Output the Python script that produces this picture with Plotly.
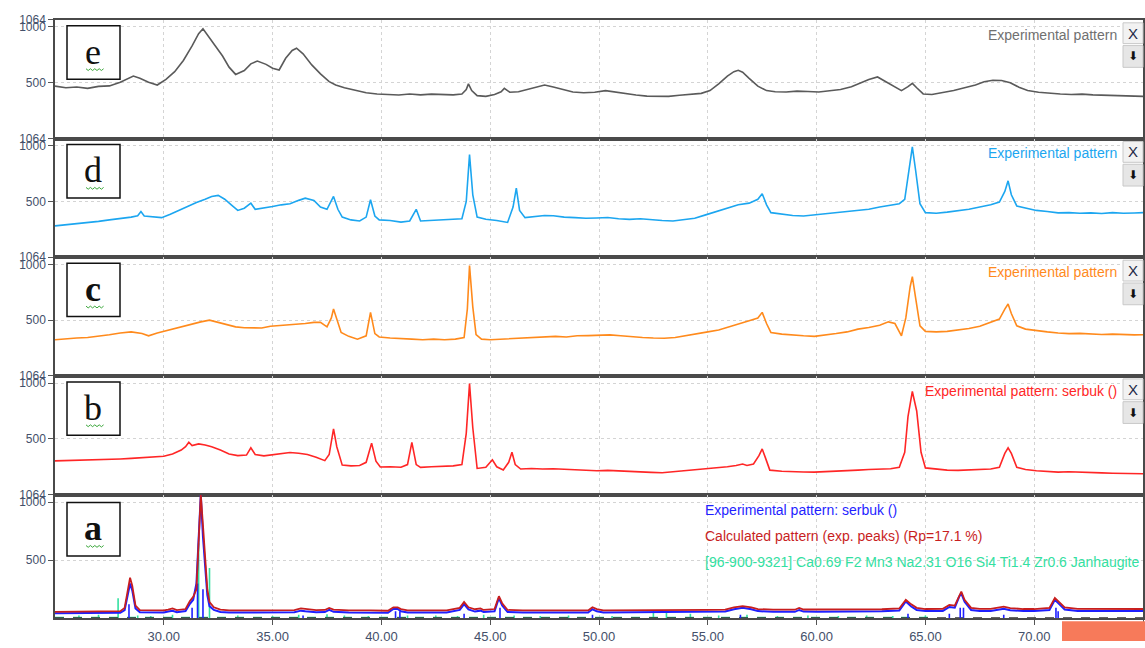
import plotly.graph_objects as go

W, H = 1145, 648

# ---------------- data (2-theta, intensity) ----------------
x_e = [25.0, 25.5, 26.0, 26.5, 27.0, 27.5, 28.0, 28.3, 28.6, 28.9, 29.3, 29.7, 30.1, 30.5, 30.9, 31.3, 31.6, 31.8, 32.0, 32.3,
       32.7, 33.0, 33.3, 33.7, 34.0, 34.3, 34.7, 35.0, 35.3, 35.6, 35.9, 36.1, 36.4, 36.8, 37.2, 37.6, 37.9, 38.3, 38.8, 39.3,
       39.8, 40.3, 40.8, 41.3, 41.8, 42.3, 42.8, 43.3, 43.7, 43.9, 44.0, 44.15, 44.4, 44.8, 45.2, 45.5, 45.65, 45.9, 46.3, 46.7,
       47.1, 47.5, 47.9, 48.3, 48.8, 49.3, 49.8, 50.3, 50.7, 51.2, 51.7, 52.2, 52.7, 53.2, 53.7, 54.2, 54.7, 55.1, 55.5, 55.9,
       56.2, 56.4, 56.6, 56.9, 57.3, 57.7, 58.1, 58.6, 59.1, 59.6, 60.1, 60.6, 61.1, 61.6, 62.0, 62.4, 62.8, 63.1, 63.5, 63.9,
       64.2, 64.4, 64.6, 64.9, 65.3, 65.8, 66.3, 66.8, 67.3, 67.7, 68.1, 68.5, 68.9, 69.3, 69.7, 70.2, 70.7, 71.2, 71.7, 72.2,
       72.7, 73.2, 73.7, 74.2, 74.7, 75.0]
y_e = [470, 455, 462, 450, 468, 472, 505, 530, 560, 540, 505, 480, 530, 600, 700, 830, 940, 985, 930, 840,
       740, 640, 575, 610, 670, 695, 665, 630, 615, 720, 790, 810, 760, 660, 580, 510, 480, 455, 430, 410,
       400, 395, 390, 400, 392, 398, 395, 392, 400, 440, 490, 430, 385, 378, 395, 420, 450, 415, 420, 440,
       460, 480, 462, 440, 418, 410, 415, 430, 418, 400, 390, 380, 382, 378, 388, 395, 405, 430, 490, 560,
       600, 612, 595, 540, 470, 430, 420, 418, 425, 422, 418, 428, 440, 465, 500, 530, 552, 520, 475, 430,
       465, 495, 455, 400, 395, 410, 430, 455, 480, 510, 522, 520, 500, 460, 430, 415, 405, 400, 395, 398,
       392, 388, 390, 382, 380, 378]

x_d = [25.0, 25.5, 26.0, 26.5, 27.0, 27.5, 28.0, 28.5, 28.8, 28.95, 29.1, 29.5, 29.9, 30.3, 30.7, 31.1, 31.5, 31.9, 32.2, 32.5,
       32.8, 33.1, 33.4, 33.7, 34.0, 34.2, 34.6, 35.0, 35.4, 35.8, 36.2, 36.5, 36.9, 37.2, 37.5, 37.8, 38.0, 38.2, 38.6, 39.0,
       39.3, 39.5, 39.7, 39.9, 40.4, 40.9, 41.3, 41.6, 41.8, 42.3, 42.8, 43.3, 43.7, 43.9, 44.05, 44.2, 44.4, 44.8, 45.3, 45.8,
       46.05, 46.2, 46.35, 46.6, 47.0, 47.5, 47.9, 48.4, 48.9, 49.4, 49.9, 50.4, 50.9, 51.4, 51.9, 52.4, 52.9, 53.4, 53.9, 54.4,
       54.9, 55.4, 55.9, 56.4, 56.9, 57.3, 57.5, 57.7, 57.9, 58.4, 58.9, 59.4, 59.9, 60.4, 60.9, 61.4, 61.9, 62.4, 62.9, 63.4,
       63.8, 64.05, 64.25, 64.4, 64.55, 64.75, 65.0, 65.5, 66.0, 66.5, 67.0, 67.5, 68.0, 68.4, 68.65, 68.8, 68.95, 69.2, 69.6, 70.1,
       70.6, 71.1, 71.6, 72.1, 72.6, 73.1, 73.6, 74.1, 74.6, 75.0]
y_d = [281, 290, 300, 310, 322, 335, 345, 360, 372, 410, 370, 365, 355, 385, 420, 460, 490, 520, 545, 555,
       520, 470, 420, 440, 485, 430, 440, 455, 470, 480, 510, 530, 510, 450, 430, 545, 430, 360, 335, 325,
       360, 515, 370, 335, 330, 315, 325, 430, 325, 330, 335, 338, 345, 500, 920, 560, 360, 340, 330, 312,
       450, 620, 420, 355, 365, 375, 372, 360, 355, 350, 352, 356, 345, 340, 345, 335, 330, 325, 335, 350,
       380, 410, 445, 470, 485, 520, 570, 470, 400, 385, 375, 370, 380, 385, 395, 405, 415, 430, 450, 465,
       480, 520, 800, 990, 780, 480, 400, 395, 405, 415, 430, 450, 470, 495, 590, 685, 560, 460, 440, 420,
       410, 398, 400, 395, 398, 392, 400, 395, 397, 400]

x_c = [25.0, 25.5, 26.0, 26.5, 27.0, 27.5, 28.0, 28.5, 29.0, 29.3, 29.7, 30.1, 30.5, 30.9, 31.3, 31.7, 32.1, 32.5, 32.9, 33.3,
       33.7, 34.1, 34.5, 34.9, 35.3, 35.7, 36.1, 36.5, 36.9, 37.2, 37.5, 37.7, 37.8, 37.95, 38.15, 38.5, 38.9, 39.3, 39.5, 39.7,
       39.9, 40.4, 40.9, 41.4, 41.9, 42.4, 42.9, 43.4, 43.8, 43.95, 44.05, 44.2, 44.35, 44.6, 45.0, 45.5, 46.0, 46.5, 47.0, 47.5,
       48.0, 48.5, 49.0, 49.5, 50.0, 50.5, 51.0, 51.5, 52.0, 52.5, 53.0, 53.5, 54.0, 54.5, 55.0, 55.5, 56.0, 56.5, 56.9, 57.3,
       57.5, 57.7, 57.9, 58.4, 58.9, 59.4, 59.9, 60.4, 60.9, 61.4, 61.9, 62.4, 62.9, 63.3, 63.6, 63.9, 64.1, 64.3, 64.4, 64.55,
       64.75, 65.0, 65.5, 66.0, 66.5, 67.0, 67.5, 68.0, 68.4, 68.65, 68.8, 68.95, 69.2, 69.6, 70.1, 70.6, 71.1, 71.6, 72.1, 72.6,
       73.1, 73.6, 74.1, 74.6, 75.0]
y_c = [325, 335, 340, 345, 355, 370, 385, 395, 380, 360, 385, 405, 428, 450, 470, 485, 500, 480, 455, 440,
       432, 428, 430, 445, 450, 455, 462, 470, 480, 480, 440, 520, 600, 500, 390, 355, 330, 360, 570, 380,
       350, 340, 332, 330, 325, 330, 325, 330, 345, 600, 990, 620, 370, 330, 325, 330, 338, 345, 348, 352,
       355, 350, 360, 362, 365, 368, 360, 350, 345, 340, 338, 345, 360, 380, 395, 412, 440, 470, 495, 520,
       570, 470, 390, 375, 365, 360, 355, 365, 380, 395, 420, 435, 455, 485, 470, 360, 520, 800, 890, 700,
       450, 400, 395, 400, 410, 425, 445, 480, 510, 600, 645, 560, 450, 420, 405, 395, 385, 380, 382, 375,
       372, 375, 370, 368, 370]

x_b = [25.0, 25.5, 26.0, 26.5, 27.0, 27.5, 28.0, 28.5, 29.0, 29.6, 30.0, 30.4, 30.8, 31.0, 31.15, 31.3, 31.6, 31.9, 32.2, 32.6,
       33.0, 33.4, 33.8, 34.0, 34.2, 34.6, 35.0, 35.4, 35.8, 36.2, 36.6, 37.0, 37.4, 37.6, 37.8, 37.95, 38.2, 38.6, 39.0, 39.3,
       39.55, 39.75, 39.95, 40.4, 40.9, 41.2, 41.4, 41.6, 41.8, 42.3, 42.8, 43.3, 43.7, 43.9, 44.05, 44.2, 44.4, 44.8, 45.0, 45.1,
       45.3, 45.6, 45.85, 46.0, 46.15, 46.4, 46.9, 47.4, 47.9, 48.4, 48.9, 49.4, 49.9, 50.4, 50.9, 51.4, 51.9, 52.4, 52.9, 53.4,
       53.9, 54.4, 54.9, 55.4, 55.9, 56.3, 56.6, 56.8, 57.1, 57.35, 57.5, 57.65, 57.85, 58.4, 58.9, 59.4, 59.9, 60.4, 60.9, 61.4,
       61.9, 62.4, 62.9, 63.4, 63.8, 64.05, 64.2, 64.4, 64.6, 64.8, 65.0, 65.5, 66.0, 66.5, 67.0, 67.5, 68.0, 68.4, 68.65, 68.8,
       68.95, 69.2, 69.6, 70.1, 70.6, 71.1, 71.6, 72.1, 72.6, 73.1, 73.6, 74.1, 74.6, 75.0]
y_b = [303, 305, 310, 312, 315, 318, 320, 325, 330, 335, 345, 365, 400, 430, 470, 440, 455, 445, 430, 400,
       365, 350, 355, 420, 360, 348, 360, 372, 378, 372, 360, 335, 305, 360, 590, 430, 265, 258, 262, 290,
       462, 300, 248, 250, 246, 270, 468, 270, 245, 250, 255, 258, 270, 550, 995, 600, 235, 245, 290, 312,
       250, 222, 290, 380, 270, 230, 235, 230, 232, 228, 225, 220, 215, 218, 212, 208, 205, 200, 197, 205,
       212, 220, 230, 240, 250, 262, 275, 262, 275, 350, 410, 330, 220, 210, 205, 203, 202, 205, 210, 215,
       220, 225, 230, 232, 245, 380, 700, 925, 750, 380, 240, 228, 220, 218, 222, 225, 230, 245, 370, 420,
       370, 245, 225, 215, 208, 202, 205, 200, 198, 195, 192, 190, 188, 188]

x_a = [25.0, 26.5, 27.0, 27.5, 28.0, 28.2, 28.35, 28.45, 28.55, 28.7, 28.9, 29.5, 30.0, 30.2, 30.4, 30.6, 31.0, 31.2, 31.35, 31.5,
       31.6, 31.7, 31.8, 31.9, 32.0, 32.1, 32.3, 32.6, 33.0, 34.0, 35.0, 36.0, 36.3, 36.5, 37.0, 37.4, 37.6, 37.8, 38.5, 39.5,
       40.3, 40.55, 40.75, 40.9, 41.2, 42.0, 43.0, 43.6, 43.8, 44.0, 44.3, 44.55, 44.7, 45.2, 45.4, 45.55, 45.8, 46.5, 47.5, 48.5,
       49.5, 49.7, 49.9, 50.2, 51.0, 52.0, 53.0, 54.0, 55.0, 55.8, 56.2, 56.6, 57.0, 57.3, 58.0, 59.0, 59.2, 59.4, 60.0, 61.0,
       62.0, 63.0, 63.8, 64.1, 64.35, 64.6, 65.0, 65.8, 66.1, 66.35, 66.55, 66.65, 66.8, 67.1, 67.5, 68.0, 68.6, 68.9, 69.5, 70.0,
       70.7, 70.95, 71.15, 71.4, 72.0, 73.0, 74.0, 75.0]
y_a_calc = [55, 56, 60, 60, 62, 90, 250, 350, 280, 110, 70, 68, 68, 75, 85, 70, 80, 150, 185, 250,
            700, 1064, 800, 500, 250, 140, 95, 75, 68, 68, 68, 70, 85, 80, 70, 72, 90, 75, 68, 68,
            65, 95, 95, 80, 68, 68, 68, 90, 140, 95, 78, 85, 72, 80, 190, 130, 72, 68, 66, 66,
            68, 95, 80, 68, 68, 70, 72, 72, 72, 75, 95, 105, 95, 80, 74, 74, 90, 76, 75, 76,
            77, 78, 85, 160, 120, 90, 80, 82, 115, 110, 200, 230, 160, 90, 82, 82, 100, 88, 80, 80,
            90, 175, 140, 95, 82, 80, 80, 80]
y_a_exp = [44, 46, 48, 46, 48, 70, 200, 300, 240, 85, 52, 50, 50, 58, 64, 52, 62, 125, 160, 300,
           650, 1064, 700, 400, 200, 105, 72, 54, 50, 50, 50, 52, 66, 60, 52, 54, 72, 56, 50, 50,
           48, 80, 80, 60, 50, 50, 50, 72, 122, 76, 58, 66, 54, 60, 175, 110, 54, 50, 49, 49,
           50, 78, 60, 50, 52, 54, 56, 56, 56, 58, 78, 90, 78, 62, 56, 56, 72, 58, 57, 58,
           59, 60, 68, 145, 102, 72, 62, 64, 98, 92, 185, 215, 142, 72, 64, 64, 82, 70, 62, 62,
           72, 160, 122, 76, 64, 62, 62, 62]

# experimental peak markers (blue sticks) and reference card (green sticks)
exp_peak_pos = [28.4, 31.3, 31.55, 31.8, 36.4, 40.65, 40.85, 43.8, 45.45, 49.7, 56.5, 64.2, 66.1, 66.6, 66.75, 68.6, 71.0, 71.1]
exp_peak_h = [120, 90, 300, 250, 25, 60, 60, 40, 90, 30, 30, 40, 40, 90, 90, 30, 90, 60]
ref_pos = [26.1, 27.0, 27.9, 28.8, 29.4, 30.4, 31.6, 32.1, 33.4, 35.0, 36.2, 37.5, 38.3, 39.4, 41.2, 42.5, 43.5, 44.7, 46.1,
           47.3, 48.6, 50.6, 52.5, 53.1, 54.2, 55.5, 56.8, 58.2, 59.6, 61.0, 62.3, 63.5, 65.0]
ref_h = [25, 30, 173, 25, 20, 30, 645, 434, 25, 20, 30, 35, 25, 20, 25, 25, 20, 30, 25,
         20, 25, 20, 60, 45, 40, 25, 30, 20, 25, 20, 25, 20, 25]
ref_base_x = [25.0, 65.3]
ref_base_y = [8, 8]
zero_x = [25.0, 75.0]
zero_y = [4, 4]

x_ticks = [30, 35, 40, 45, 50, 55, 60, 65, 70, 75]
y_tickvals = [500, 1000, 1064]
y_ticktext = ["500", "1000", "1064"]

panel_letters = ["e", "d", "c", "b", "a"]
panel_legends = ["Experimental pattern", "Experimental pattern", "Experimental pattern",
                 "Experimental pattern: serbuk ()", None]
a_legend = ["Experimental pattern: serbuk ()", "Calculated pattern (exp. peaks) (Rp=17.1 %)",
            "[96-900-9321] Ca0.69 F2 Mn3 Na2.31 O16 Si4 Ti1.4 Zr0.6 Janhaugite"]

# ---------------- styling ----------------
C_E, C_D, C_C, C_B = "#5a5a5a", "#1ca6f0", "#ff8a1c", "#ff2626"
C_BLUE, C_RED, C_GREEN = "#1f1fff", "#c81e1e", "#34e0a1"
TICK_COL = "#44506a"

def px(x):
    return x / W

def py(y):
    return 1 - y / H

panel_tops = [13, 133, 253, 373, 493]
panel_bots = [133, 253, 373, 493, 618]

def sticks(pos, h):
    xs, ys = [], []
    for p, v in zip(pos, h):
        xs += [p, p, None]
        ys += [0, v, None]
    return xs, ys

fig = go.Figure()
series = [(x_e, y_e, C_E), (x_d, y_d, C_D), (x_c, y_c, C_C), (x_b, y_b, C_B)]
for i, (xx, yy, col) in enumerate(series):
    n = i + 1
    fig.add_trace(go.Scatter(x=xx, y=yy, mode="lines", line=dict(color=col, width=1.6),
                             xaxis="x" if n == 1 else f"x{n}", yaxis="y" if n == 1 else f"y{n}",
                             showlegend=False, hoverinfo="skip"))

rx, ry = sticks(ref_pos, ref_h)
bx, by = sticks(exp_peak_pos, exp_peak_h)
fig.add_trace(go.Scatter(x=rx, y=ry, mode="lines", line=dict(color=C_GREEN, width=1.6),
                         xaxis="x5", yaxis="y5", showlegend=False, hoverinfo="skip"))
fig.add_trace(go.Scatter(x=ref_base_x, y=ref_base_y, mode="lines", line=dict(color=C_GREEN, width=1.5, dash="dash"),
                         xaxis="x5", yaxis="y5", showlegend=False, hoverinfo="skip"))
fig.add_trace(go.Scatter(x=zero_x, y=zero_y, mode="lines", line=dict(color="#333333", width=1.3, dash="dash"),
                         xaxis="x5", yaxis="y5", showlegend=False, hoverinfo="skip"))
fig.add_trace(go.Scatter(x=bx, y=by, mode="lines", line=dict(color=C_BLUE, width=1.6),
                         xaxis="x5", yaxis="y5", showlegend=False, hoverinfo="skip"))
fig.add_trace(go.Scatter(x=x_a, y=y_a_exp, mode="lines", line=dict(color=C_BLUE, width=2.0),
                         xaxis="x5", yaxis="y5", showlegend=False, hoverinfo="skip"))
fig.add_trace(go.Scatter(x=x_a, y=y_a_calc, mode="lines", line=dict(color=C_RED, width=1.8),
                         xaxis="x5", yaxis="y5", showlegend=False, hoverinfo="skip"))

layout = dict(width=W, height=H, margin=dict(l=0, r=0, t=0, b=0),
              paper_bgcolor="white", plot_bgcolor="white",
              font=dict(family="Liberation Sans, Arial, sans-serif", color=TICK_COL))

for i in range(5):
    n = i + 1
    xk = "xaxis" if n == 1 else f"xaxis{n}"
    yk = "yaxis" if n == 1 else f"yaxis{n}"
    ya = "y" if n == 1 else f"y{n}"
    xa = "x" if n == 1 else f"x{n}"
    dom = [py(panel_bots[i]), py(panel_tops[i])]
    layout[xk] = dict(domain=[px(55), px(1143)], range=[25.0, 75.0], anchor=ya,
                      tickvals=x_ticks, tickformat=".2f",
                      showticklabels=(n == 5), ticks="outside" if n == 5 else "", ticklen=5,
                      tickcolor="#555", tickfont=dict(size=13, color=TICK_COL),
                      showgrid=True, gridcolor="#d4d4d4", griddash="dot", gridwidth=1,
                      showline=True, linecolor="#4a4a4a", linewidth=2, mirror=True,
                      zeroline=False, fixedrange=True)
    if n != 1:
        layout[xk]["matches"] = "x"
    layout[yk] = dict(domain=dom, range=[0, 1064], anchor=xa,
                      tickvals=y_tickvals, ticktext=y_ticktext, ticks="outside", ticklen=5,
                      tickcolor="#555", tickfont=dict(size=12, color=TICK_COL),
                      showgrid=True, gridcolor="#d4d4d4", griddash="dot", gridwidth=1,
                      showline=True, linecolor="#4a4a4a", linewidth=1.5, mirror=True,
                      zeroline=False, fixedrange=True)

shapes, annotations = [], []
for i, letter in enumerate(panel_letters):
    top = panel_tops[i]
    by0 = top + 6 if i < 4 else top + 8
    shapes.append(dict(type="rect", xref="paper", yref="paper", x0=px(67), x1=px(120),
                       y0=py(by0 + 54), y1=py(by0), line=dict(color="#111", width=1.5),
                       fillcolor="white", layer="above"))
    bold = letter in ("a", "c")
    annotations.append(dict(xref="paper", yref="paper", x=px(93.5), y=py(by0 + 26),
                            text=f"<b>{letter}</b>" if bold else letter, showarrow=False,
                            font=dict(family="Liberation Serif, Times New Roman, serif", size=36, color="#111"),
                            xanchor="center", yanchor="middle"))
    # green spell-check squiggle
    sy = by0 + 44
    pts = []
    for k in range(9):
        xx = 86 + k * 2.2
        yy = sy + (1.2 if k % 2 else -0.6)
        pts.append(f"{px(xx):.5f},{py(yy):.5f}")
    shapes.append(dict(type="path", xref="paper", yref="paper", path="M" + " L".join(pts),
                       line=dict(color="#3aa63a", width=1), layer="above"))

    leg = panel_legends[i]
    legcol = [C_E, C_D, C_C, C_B, None][i]
    if leg:
        annotations.append(dict(xref="paper", yref="paper", x=px(1119), y=py(top + 15), text=leg,
                                showarrow=False, xanchor="right", yanchor="middle",
                                font=dict(size=14, color=legcol if i else "#707070")))
        # small X / arrow buttons
        shapes.append(dict(type="rect", xref="paper", yref="paper", x0=px(1123), x1=px(1143),
                           y0=py(top + 24), y1=py(top + 3), line=dict(color="#c8c8c8", width=1),
                           fillcolor="#f2f2f2", layer="above"))
        shapes.append(dict(type="rect", xref="paper", yref="paper", x0=px(1123), x1=px(1143),
                           y0=py(top + 48), y1=py(top + 26), line=dict(color="#c8c8c8", width=1),
                           fillcolor="#e6e6e6", layer="above"))
        annotations.append(dict(xref="paper", yref="paper", x=px(1133), y=py(top + 13.5), text="X",
                                showarrow=False, xanchor="center", yanchor="middle",
                                font=dict(size=15, color="#1e2a48")))
        annotations.append(dict(xref="paper", yref="paper", x=px(1133), y=py(top + 37), text="⬇",
                                showarrow=False, xanchor="center", yanchor="middle",
                                font=dict(family="DejaVu Sans", size=12, color="#111")))

for j, (txt, col) in enumerate(zip(a_legend, [C_BLUE, C_RED, C_GREEN])):
    annotations.append(dict(xref="paper", yref="paper", x=px(703), y=py(508 + 26.5 * j), text=txt,
                            showarrow=False, xanchor="left", yanchor="middle",
                            font=dict(size=14, color=col)))

# orange marker bar at bottom right
shapes.append(dict(type="rect", xref="paper", yref="paper", x0=px(1062), x1=px(1145),
                   y0=py(641), y1=py(621), line=dict(width=0), fillcolor="#f77a5a", layer="above"))

layout["shapes"] = shapes
layout["annotations"] = annotations
fig.update_layout(**layout)
fig.write_html("out.html", config={"displayModeBar": False},
               post_script="document.body.style.margin='0px';document.body.style.overflow='hidden';")
